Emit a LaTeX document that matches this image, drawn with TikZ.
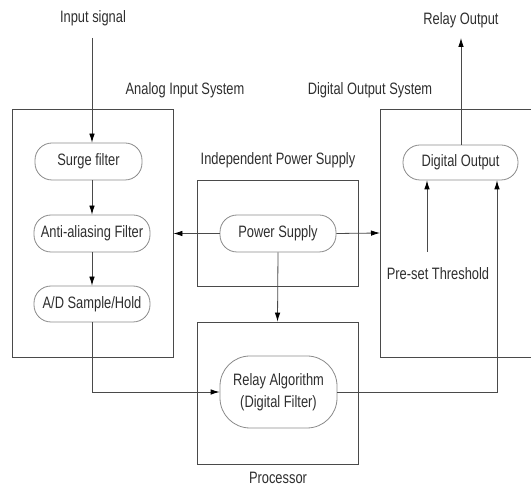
\documentclass[tikz,border=0pt]{standalone}
\usepackage{fontspec}
\setmainfont{Liberation Sans}[FakeStretch=0.78]
\usetikzlibrary{arrows.meta}
\definecolor{ln}{HTML}{4A4A4A}
\definecolor{nb}{HTML}{8A8A8A}
\definecolor{tx}{HTML}{2E2E2E}
\tikzset{
  lbl/.style={text=tx,font=\fontsize{16.5}{22}\selectfont,inner sep=1pt},
  sysbox/.style={draw=ln,line width=0.8pt,inner sep=0pt},
  procnode/.style={draw=nb,line width=0.8pt,rounded corners=17pt,inner sep=0pt,
    text=tx,font=\fontsize{16.5}{22}\selectfont,align=center},
  arr/.style={draw=ln,line width=0.8pt,-{Latex[length=9pt,width=5.5pt,fill=black,color=black]}},
  ln/.style={draw=ln,line width=0.8pt}
}
\begin{document}
\begin{tikzpicture}[x=1pt,y=-1pt]
\useasboundingbox (0,0) rectangle (531,486);
% system boxes
\node[sysbox,minimum width=161pt,minimum height=248pt] (analog) at (92.5,233) {};
\node[sysbox,minimum width=161pt,minimum height=106pt] (ips) at (277.5,233) {};
\node[sysbox,minimum width=161pt,minimum height=142pt] (proc) at (277.5,393) {};
\draw[ln] (540,109) -- (380,109) -- (380,357) -- (540,357);
\coordinate (doswest) at (380,233);
% labels
\node[lbl] (linput) at (93,18) {Input signal};
\node[lbl] (lrelay) at (461,20) {Relay Output};
\node[lbl] (lanalog) at (185,90) {Analog Input System};
\node[lbl] (ldos) at (370,90) {Digital Output System};
\node[lbl] (lips) at (278,160) {Independent Power Supply};
\node[lbl] (thresh) at (438,274) {Pre-set Threshold};
\node[lbl] (lproc) at (278,478) {Processor};
% process nodes
\node[procnode,minimum width=107pt,minimum height=37pt] (surge) at (88.5,161.5) {Surge filter};
\node[procnode,minimum width=116pt,minimum height=37pt] (anti) at (92,233.5) {Anti-aliasing Filter};
\node[procnode,minimum width=116pt,minimum height=36pt] (ad) at (92,304) {A/D Sample/Hold};
\node[procnode,minimum width=116pt,minimum height=37pt] (power) at (278,233.5) {Power Supply};
\node[procnode,minimum width=117pt,minimum height=72pt,rounded corners=30pt] (relay) at (278.5,392) {Relay Algorithm\\(Digital Filter)};
\node[procnode,minimum width=115pt,minimum height=35pt] (dout) at (460.5,162.5) {Digital Output};
% coordinates
\coordinate (inp) at (92,38);
\coordinate (rout) at (461,38);
\coordinate (thr) at (427,252);
% connectors
\draw[arr] (inp) -- (inp |- surge.north);
\draw[arr] (anti.north |- surge.south) -- (anti.north);
\draw[arr] (anti.south) -- (ad.north);
\draw[arr] (power.west) -- (power.west -| analog.east);
\draw[arr] (power.east) -- (doswest);
\draw[arr] (power.south) -- (proc.north);
\draw[arr] (ad.south) |- (relay.west);
\draw[arr] (relay.east) -| ([xshift=36.5pt]dout.south);
\draw[arr] (thr) -- (thr |- dout.south);
\draw[arr] (dout.north -| rout) -- (rout);
\end{tikzpicture}
\end{document}
